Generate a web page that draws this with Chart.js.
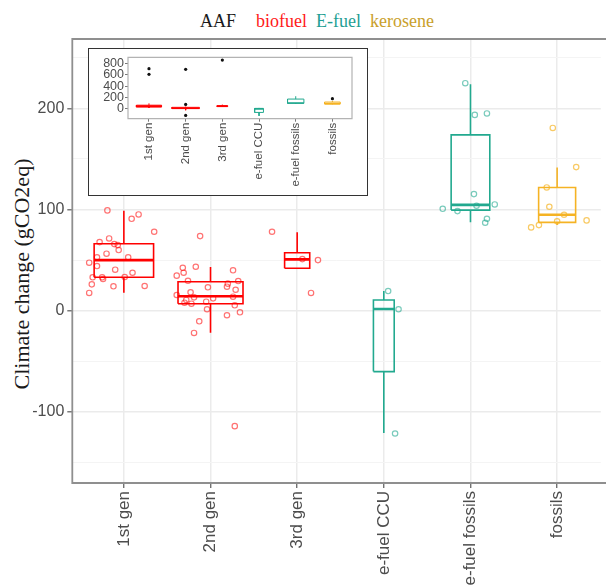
<!DOCTYPE html>
<html>
<head>
<meta charset="utf-8">
<script src="https://cdn.jsdelivr.net/npm/chart.js@4.4.1/dist/chart.umd.min.js"></script>
<style>
  body { margin: 0; background: #fff; }
  #wrap { position: relative; width: 606px; height: 585px; overflow: hidden; background: #fff; }
  .leg { position: absolute; top: 11px; font: 18px "Liberation Serif", "Times New Roman", serif; line-height: 20px; white-space: nowrap; }
  #ytitle { position: absolute; left: 22px; top: 274px; transform: translate(-50%, -50%) rotate(-90deg);
            font: 22px "Liberation Serif", "Times New Roman", serif; color: #1a1a1a; white-space: nowrap; }
  #main { position: absolute; left: 0; top: 0; }
  #inset { position: absolute; left: 89px; top: 49px; width: 278px; height: 146px; background: #fff; }
  #insetFrame { position: absolute; left: 88px; top: 48px; width: 280px; height: 148px; box-sizing: border-box;
                border: 1.6px solid #333; pointer-events: none; }
</style>
</head>
<body>
<div id="wrap">
  <span class="leg" style="left:200px;color:#1a1a1a">AAF</span>
  <span class="leg" style="left:256px;color:#ff1a1a">biofuel</span>
  <span class="leg" style="left:316px;color:#1f9e93">E-fuel</span>
  <span class="leg" style="left:370px;color:#c9a02c">kerosene</span>
  <div id="ytitle">Climate change (gCO2eq)</div>
  <canvas id="main" width="606" height="585"></canvas>
  <div id="inset"><canvas id="insetCanvas" width="278" height="146"></canvas></div>
  <div id="insetFrame"></div>
</div>
<script>
// categories and the fuel family each one belongs to
const categories = ['1st gen', '2nd gen', '3rd gen', 'e-fuel CCU', 'e-fuel fossils', 'fossils'];
const families = ['biofuel', 'biofuel', 'biofuel', 'E-fuel', 'E-fuel', 'kerosene'];

// box statistics (gCO2eq)
const q1 = [33, 6.9, 41.9, -60.2, 99.4, 87.3];
const median = [50, 14.2, 50.7, 1.7, 104.6, 94.8];
const q3 = [66.1, 28.6, 57.3, 10.6, 173.7, 121.8];
const whiskerLow = [17.8, -21.7, 41.9, -121, 87.3, 84.6];
const whiskerHigh = [98.7, 43.1, 77.4, 19.4, 223.8, 141.6];

// individual studies (jittered points): values and horizontal jitter in category units
const gen1Values = [99.1, 90.8, 95.1, 78, 67.8, 71.4, 65.8, 64.8, 59.9, 56.3, 52.7, 52.7, 47.4, 44.1, 40.5, 37.5, 33, 33, 31.3, 33.3, 26, 24.1, 24.4, 17.5];
const gen1Jitter = [-0.19, 0.09, 0.17, 0.35, -0.28, -0.17, -0.11, -0.07, -0.06, -0.2, -0.31, 0.05, -0.4, -0.31, -0.1, 0.1, -0.36, -0.25, -0.24, 0.01, -0.37, -0.12, 0.24, -0.4];
const gen2Values = [73.7, 42.4, 43.4, 37.5, 39.9, 34.6, 29.6, 29.3, 26.7, 23.1, 23.7, 20.7, 18.2, 15.5, 13.8, 12.2, 13.2, 10.6, 7.9, 6.9, 8.9, 5.3, 1.4, -1.6, -4.5, -10.5, -22, -114.1];
const gen2Jitter = [-0.12, -0.32, -0.17, -0.31, 0.26, -0.39, -0.26, 0.32, 0.2, -0.03, 0.19, 0.29, -0.23, -0.39, 0.26, 0.03, -0.19, -0.28, -0.3, -0.22, -0.05, 0.28, -0.04, 0.34, 0.19, -0.13, -0.19, 0.28];
const gen3Values = [78, 51, 50, 17.5];
const gen3Jitter = [-0.29, 0.06, 0.24, 0.16];
const ccuValues = [19.4, 1.4, -121.4];
const ccuJitter = [0.05, 0.17, 0.13];
const efossilValues = [224.8, 193.5, 194.9, 115.2, 103.7, 105, 100.7, 98.4, 90.8, 86.9];
const efossilJitter = [-0.06, 0.05, 0.19, 0.04, 0.07, 0.28, -0.32, -0.15, 0.19, 0.17];
const fossilValues = [180.6, 141.9, 121.8, 102.7, 94.8, 89.2, 88.3, 84.6, 82.3];
const fossilJitter = [-0.05, 0.22, -0.12, -0.09, 0.08, 0.34, 0, -0.21, -0.3];

// outliers shown in the zoomed-out inset
const insetOutliers = [[705, 607], [695, 80, -112], [857], [], [], [181]];

// tick values
const mainYTicks = [-150, -100, -50, 0, 50, 100, 150, 200, 250];
const insetYTicks = [0, 200, 400, 600, 800];

const pointValues = [gen1Values, gen2Values, gen3Values, ccuValues, efossilValues, fossilValues];
const pointJitter = [gen1Jitter, gen2Jitter, gen3Jitter, ccuJitter, efossilJitter, fossilJitter];

// styling
const boxWidths = [0.686, 0.75, 0.29, 0.24, 0.446, 0.427]; // varwidth boxes
const lineColors = { biofuel: '#ff0000', 'E-fuel': '#22a98f', kerosene: '#f5b324' };
const pointColors = { biofuel: 'rgba(255,0,0,0.55)', 'E-fuel': 'rgba(34,169,143,0.6)', kerosene: 'rgba(245,179,36,0.7)' };
const SANS = '"Liberation Sans", Arial, sans-serif';

Chart.defaults.font.family = SANS;
Chart.defaults.animation = false;

// frame around the plotting panel
const panelFrame = {
  id: 'panelFrame',
  afterDraw(chart, args, opts) {
    const a = chart.chartArea, c = chart.ctx;
    c.save();
    c.strokeStyle = opts.color;
    c.lineWidth = opts.width;
    c.beginPath();
    if (opts.openRight) {
      c.moveTo(chart.width + 5, a.top); c.lineTo(a.left, a.top);
      c.lineTo(a.left, a.bottom); c.lineTo(chart.width + 5, a.bottom);
    } else {
      c.rect(a.left, a.top, a.right - a.left, a.bottom - a.top);
    }
    c.stroke();
    c.restore();
  }
};

function boxDatasets(lineW, medianW) {
  const sets = [];
  categories.forEach((cat, i) => {
    const x = i + 1, w = boxWidths[i] / 2;
    const col = lineColors[families[i]];
    sets.push({
      label: cat + ' box',
      data: [
        { x: x - w, y: q1[i] }, { x: x + w, y: q1[i] }, { x: x + w, y: q3[i] }, { x: x - w, y: q3[i] }, { x: x - w, y: q1[i] },
        { x: x, y: null },
        { x: x, y: q3[i] }, { x: x, y: whiskerHigh[i] },
        { x: x, y: null },
        { x: x, y: q1[i] }, { x: x, y: whiskerLow[i] }
      ],
      borderColor: col, borderWidth: lineW, pointRadius: 0, spanGaps: false,
      borderJoinStyle: 'miter', order: 2
    });
    sets.push({
      label: cat + ' median',
      data: [{ x: x - w, y: median[i] }, { x: x + w, y: median[i] }],
      borderColor: col, borderWidth: medianW, pointRadius: 0, order: 2
    });
  });
  return sets;
}

// ---------- main chart ----------
const mainSets = boxDatasets(1.6, 2.6);
categories.forEach((cat, i) => {
  mainSets.push({
    label: cat + ' studies',
    data: pointValues[i].map((v, k) => ({ x: i + 1 + pointJitter[i][k], y: v })),
    showLine: false,
    pointRadius: 2.7,
    pointBorderWidth: 1.2,
    pointBackgroundColor: 'rgba(0,0,0,0)',
    pointBorderColor: pointColors[families[i]],
    order: 1
  });
});

new Chart(document.getElementById('main'), {
  type: 'line',
  data: { datasets: mainSets },
  plugins: [panelFrame],
  options: {
    responsive: false,
    layout: { padding: { top: 39, left: 0, right: 0, bottom: 0 } },
    plugins: {
      legend: { display: false },
      tooltip: { enabled: false },
      panelFrame: { color: '#8f8f8f', width: 1.8, openRight: true }
    },
    scales: {
      x: {
        type: 'linear', min: 0.405, max: 6.504,
        afterBuildTicks: s => { s.ticks = categories.map((c, i) => ({ value: i + 1 })); },
        afterFit: s => { s.height = 102; },
        ticks: {
          autoSkip: false, minRotation: 90, maxRotation: 90, padding: 3,
          color: '#4d4d4d', font: { size: 17, family: SANS },
          callback: v => categories[Math.round(v) - 1]
        },
        grid: { color: '#ebebeb', lineWidth: 1.5, tickLength: 5, tickColor: '#5a5a5a', tickWidth: 1.2 },
        border: { display: false }
      },
      y: {
        type: 'linear', min: -170.3, max: 268.5,
        afterBuildTicks: s => { s.ticks = mainYTicks.map(v => ({ value: v })); },
        afterFit: s => { s.width = 72.3; },
        ticks: {
          autoSkip: false, padding: 3, color: '#4d4d4d', font: { size: 16, family: SANS },
          callback: v => (v % 100 === 0 ? String(v) : '')
        },
        grid: {
          color: c => (c.tick && c.tick.value % 100 === 0 ? '#ebebeb' : '#f4f4f4'),
          lineWidth: c => (c.tick && c.tick.value % 100 === 0 ? 1.6 : 1),
          tickLength: 5,
          tickColor: c => (c.tick && c.tick.value % 100 === 0 ? '#5a5a5a' : 'rgba(0,0,0,0)'),
          tickWidth: 1.2
        },
        border: { display: false }
      }
    }
  }
});

// ---------- inset (full range) ----------
const insetSets = boxDatasets(1, 1.6);
categories.forEach((cat, i) => {
  insetSets.push({
    label: cat + ' outliers',
    data: insetOutliers[i].map(v => ({ x: i + 1, y: v })),
    showLine: false,
    pointRadius: 1.6,
    pointBorderWidth: 0,
    pointBackgroundColor: '#111',
    order: 1
  });
});

new Chart(document.getElementById('insetCanvas'), {
  type: 'line',
  data: { datasets: insetSets },
  plugins: [panelFrame],
  options: {
    responsive: false,
    layout: { padding: { top: 8.3, left: 0, right: 15, bottom: 0 } },
    plugins: {
      legend: { display: false },
      tooltip: { enabled: false },
      panelFrame: { color: '#b3b3b3', width: 1.2, openRight: false }
    },
    scales: {
      x: {
        type: 'linear', min: 0.428, max: 6.534,
        afterBuildTicks: s => { s.ticks = categories.map((c, i) => ({ value: i + 1 })); },
        afterFit: s => { s.height = 76.3; },
        ticks: {
          autoSkip: false, minRotation: 90, maxRotation: 90, padding: 1,
          color: '#4d4d4d', font: { size: 11.5, family: SANS },
          callback: v => categories[Math.round(v) - 1]
        },
        grid: { drawOnChartArea: false, tickLength: 3, tickColor: '#777', tickWidth: 1 },
        border: { display: false }
      },
      y: {
        type: 'linear', min: -170, max: 905,
        afterBuildTicks: s => { s.ticks = insetYTicks.map(v => ({ value: v })); },
        afterFit: s => { s.width = 39; },
        ticks: { autoSkip: false, padding: 1, color: '#4d4d4d', font: { size: 12.5, family: SANS, lineHeight: 1 } },
        grid: { drawOnChartArea: false, tickLength: 3, tickColor: '#777', tickWidth: 1 },
        border: { display: false }
      }
    }
  }
});
</script>
</body>
</html>
